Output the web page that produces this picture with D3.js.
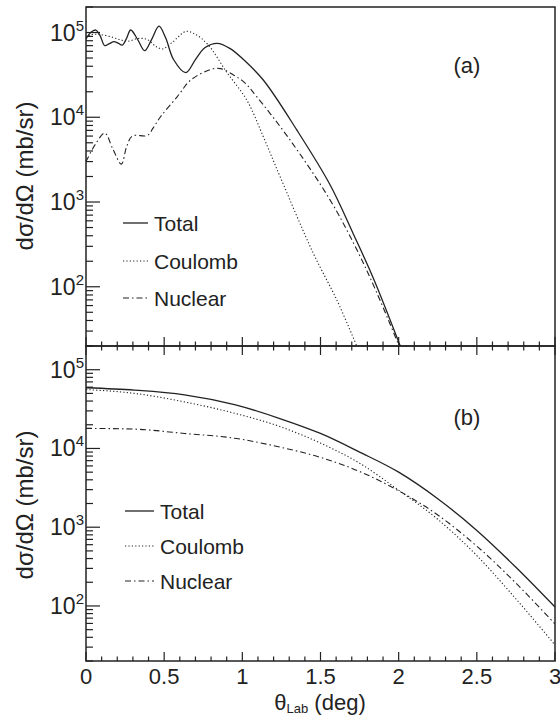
<!DOCTYPE html>
<html><head><meta charset="utf-8">
<script src="https://cdn.jsdelivr.net/npm/d3@7"></script>
<style>
body{margin:0;background:#fff;}
svg{display:block;font-family:"Liberation Sans",Arial,Helvetica,sans-serif;}
</style></head>
<body><svg id="c" width="560" height="717"></svg>
<script>
// ---- Panel (a) data ----
const thetaA_total = [0, 0.03, 0.062, 0.09, 0.12, 0.15, 0.179, 0.205, 0.232, 0.26, 0.286, 0.33, 0.375, 0.42, 0.467, 0.51, 0.56, 0.638, 0.70, 0.76, 0.84, 0.92, 1.007, 1.134, 1.348, 1.561, 1.71, 1.838, 2.01];
const totalA = [8.4e4, 1.0e5, 1.07e5, 9.2e4, 7.0e4, 7.4e4, 7.8e4, 7.5e4, 7.1e4, 8.6e4, 1.07e5, 8.3e4, 6.1e4, 8.3e4, 1.19e5, 8.6e4, 4.8e4, 3.36e4, 4.8e4, 6.6e4, 7.45e4, 6.5e4, 4.8e4, 2.75e4, 7.1e3, 1.6e3, 420, 126, 20];
const thetaA_coul = [0, 0.03, 0.08, 0.15, 0.22, 0.27, 0.33, 0.39, 0.45, 0.49, 0.55, 0.64, 0.70, 0.78, 0.90, 1.028, 1.134, 1.241, 1.454, 1.604, 1.732];
const coulombA = [8.6e4, 9.4e4, 9.5e4, 9.0e4, 8.2e4, 7.9e4, 8.5e4, 8.3e4, 6.8e4, 6.4e4, 7.6e4, 1.03e5, 9.5e4, 7.2e4, 3.4e4, 1.6e4, 5.9e3, 2.0e3, 248, 70, 20];
const thetaA_nuc = [0, 0.06, 0.12, 0.17, 0.226, 0.26, 0.296, 0.392, 0.43, 0.478, 0.584, 0.67, 0.798, 0.86, 0.943, 1.011, 1.092, 1.305, 1.561, 1.732, 1.86, 1.998];
const nuclearA = [3.0e3, 4.8e3, 6.5e3, 4.3e3, 2.8e3, 4.5e3, 6.0e3, 6.1e3, 7.5e3, 1.02e4, 1.75e4, 2.75e4, 3.67e4, 3.75e4, 3.15e4, 2.6e4, 1.75e4, 5.4e3, 1.06e3, 275, 85, 21];

// ---- Panel (b) data ----
const thetaB = [0, 0.31, 0.63, 0.95, 1.24, 1.5, 1.75, 2.0, 2.25, 2.5, 2.75, 3.0];
const totalB = [5.9e4, 5.5e4, 4.8e4, 3.6e4, 2.4e4, 1.55e4, 9.0e3, 5.0e3, 2.3e3, 910, 310, 97];
const coulombB = [5.6e4, 5.0e4, 3.9e4, 2.8e4, 1.9e4, 1.17e4, 6.5e3, 2.95e3, 1.26e3, 436, 123, 32];
const nuclearB = [1.8e4, 1.76e4, 1.55e4, 1.35e4, 1.04e4, 7.7e3, 5.1e3, 2.9e3, 1.43e3, 575, 195, 59];

// ---- axis ticks / labels ----
const xTicksMajor = [0, 0.5, 1, 1.5, 2, 2.5, 3];
const xTickLabels = ["0", "0.5", "1", "1.5", "2", "2.5", "3"];
const yDecades = [2, 3, 4, 5];
const legendLabels = ["Total", "Coulomb", "Nuclear"];
const panelLabels = ["(a)", "(b)"];

const svg = d3.select("#c");
const ink = "#222";
const L = 86, R = 555;
const x = d3.scaleLinear().domain([0, 3]).range([L, R]);
const panels = [
  {top: 7, bot: 346, lab: panelLabels[0], labY: 73,
   series: [[thetaA_total, totalA, null], [thetaA_coul, coulombA, "1.2,2.2"], [thetaA_nuc, nuclearA, "6,3,1.5,3"]],
   leg: {x1: 123, x2: 148, tx: 154, ys: [223, 261, 298]}, titleY: 176},
  {top: 346, bot: 661, lab: panelLabels[1], labY: 425,
   series: [[thetaB, totalB, null], [thetaB, coulombB, "1.2,2.2"], [thetaB, nuclearB, "6,3,1.5,3"]],
   leg: {x1: 125, x2: 154, tx: 160, ys: [511, 546, 581]}, titleY: 505}
];

panels.forEach((p, pi) => {
  const y = d3.scaleLog().domain([20, 2e5]).range([p.bot, p.top]);
  const g = svg.append("g");
  const clipId = "clip" + pi;
  svg.append("clipPath").attr("id", clipId).append("rect")
    .attr("x", L).attr("y", p.top).attr("width", R - L).attr("height", p.bot - p.top);

  // curves
  const line = d3.line().x(d => x(d[0])).y(d => y(d[1]))
    .curve(pi === 0 ? d3.curveCatmullRom.alpha(0.5) : d3.curveMonotoneX);
  p.series.forEach(([xs, vs, dash]) => {
    const pts = xs.map((t, i) => [t, vs[i]]);
    g.append("path").attr("d", line(pts)).attr("fill", "none")
      .attr("stroke", ink).attr("stroke-width", dash ? 1.1 : 1.3)
      .attr("stroke-dasharray", dash).attr("clip-path", `url(#${clipId})`);
  });

  // y ticks
  const yt = g.append("g");
  for (let e = 1; e <= 5; e++) {
    for (let m = 1; m <= 9; m++) {
      const v = m * Math.pow(10, e);
      if (v < 20 || v > 2e5) continue;
      const len = m === 1 ? 14 : 7;
      yt.append("line").attr("x1", L).attr("x2", L + len)
        .attr("y1", y(v)).attr("y2", y(v)).attr("stroke", ink).attr("stroke-width", 1.2);
    }
  }
  yDecades.forEach(e => {
    const t = yt.append("text").attr("x", 84).attr("y", y(Math.pow(10, e)) + 8)
      .attr("text-anchor", "end").attr("font-size", 23).attr("fill", ink);
    t.append("tspan").text("10");
    t.append("tspan").attr("dy", -10).attr("font-size", 15).text(e);
  });

  // x ticks (bottom edge inward for both; top edge inward only for bottom panel)
  const xt = g.append("g");
  for (let i = 0; i <= 30; i++) {
    const v = i / 10;
    const major = i % 5 === 0;
    const len = major ? 9 : 4.5;
    xt.append("line").attr("x1", x(v)).attr("x2", x(v))
      .attr("y1", p.bot).attr("y2", p.bot - len).attr("stroke", ink).attr("stroke-width", 1.2);
    if (pi === 1) {
      xt.append("line").attr("x1", x(v)).attr("x2", x(v))
        .attr("y1", p.top).attr("y2", p.top + len).attr("stroke", ink).attr("stroke-width", 1.2);
    }
  }

  // frame
  g.append("rect").attr("x", L).attr("y", p.top).attr("width", R - L).attr("height", p.bot - p.top)
    .attr("fill", "none").attr("stroke", ink).attr("stroke-width", 1.5);

  // panel label
  g.append("text").attr("x", 467).attr("y", p.labY).attr("text-anchor", "middle")
    .attr("font-size", 22).attr("fill", ink).text(p.lab);

  // legend
  p.series.forEach(([xs, vs, dash], i) => {
    const ly = p.leg.ys[i];
    g.append("line").attr("x1", p.leg.x1).attr("x2", p.leg.x2).attr("y1", ly).attr("y2", ly)
      .attr("stroke", ink).attr("stroke-width", dash ? 1.1 : 1.3).attr("stroke-dasharray", dash);
    g.append("text").attr("x", p.leg.tx).attr("y", ly + 7.5).attr("font-size", 21)
      .attr("fill", ink).text(legendLabels[i]);
  });

  // y title
  g.append("text").attr("transform", `translate(33,${p.titleY}) rotate(-90)`)
    .attr("text-anchor", "middle").attr("font-size", 24).attr("fill", ink)
    .text("dσ/dΩ (mb/sr)");
});

// x tick labels
xTicksMajor.forEach((v, i) => {
  svg.append("text").attr("x", x(v)).attr("y", 684).attr("text-anchor", "middle")
    .attr("font-size", 22).attr("fill", ink).text(xTickLabels[i]);
});
// x title
const xt = svg.append("text").attr("x", 320).attr("y", 710).attr("text-anchor", "middle")
  .attr("font-size", 22).attr("fill", ink);
xt.append("tspan").text("θ");
xt.append("tspan").attr("dy", 3).attr("font-size", 13).text("Lab");
xt.append("tspan").attr("dy", -3).text(" (deg)");
</script></body></html>
